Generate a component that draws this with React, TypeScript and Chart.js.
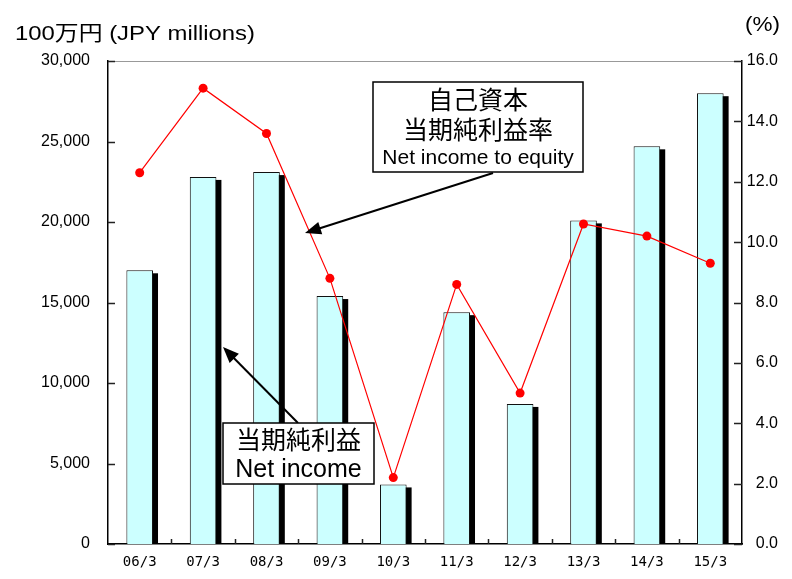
import React, { useEffect, useRef } from 'react';
import { Chart, registerables } from 'chart.js';

Chart.register(...registerables);

const categories = ['06/3', '07/3', '08/3', '09/3', '10/3', '11/3', '12/3', '13/3', '14/3', '15/3'];
const netIncome = [17000, 22800, 23100, 15400, 3700, 14400, 8700, 20100, 24700, 28000];
const roe = [12.3, 15.1, 13.6, 8.8, 2.2, 8.6, 5.0, 10.6, 10.2, 9.3];

const leftTitle = '100万円 (JPY millions)';
const rightTitle = '(%)';
const roeLabel = ['自己資本', '当期純利益率', 'Net income to equity'];
const niLabel = ['当期純利益', 'Net income'];

const SANS = '"Liberation Sans", Arial, "Noto Sans CJK JP", sans-serif';
const CJK = '"Liberation Sans", "Noto Sans CJK JP", sans-serif';

function arrow(ctx: CanvasRenderingContext2D, x1: number, y1: number, x2: number, y2: number) {
  const ang = Math.atan2(y2 - y1, x2 - x1);
  const L = 16, W = 6.5;
  ctx.save();
  ctx.strokeStyle = '#000';
  ctx.fillStyle = '#000';
  ctx.lineWidth = 2;
  ctx.beginPath();
  ctx.moveTo(x1, y1);
  ctx.lineTo(x2 - Math.cos(ang) * (L - 2), y2 - Math.sin(ang) * (L - 2));
  ctx.stroke();
  ctx.beginPath();
  ctx.moveTo(x2, y2);
  ctx.lineTo(x2 - Math.cos(ang) * L - Math.sin(ang) * W, y2 - Math.sin(ang) * L + Math.cos(ang) * W);
  ctx.lineTo(x2 - Math.cos(ang) * L + Math.sin(ang) * W, y2 - Math.sin(ang) * L - Math.cos(ang) * W);
  ctx.closePath();
  ctx.fill();
  ctx.restore();
}

function box(ctx: CanvasRenderingContext2D, x: number, y: number, w: number, h: number, lines: { t: string; y: number; font: string }[]) {
  ctx.save();
  ctx.fillStyle = '#fff';
  ctx.fillRect(x, y, w, h);
  ctx.strokeStyle = '#000';
  ctx.lineWidth = 1.5;
  ctx.strokeRect(x, y, w, h);
  ctx.fillStyle = '#000';
  ctx.textAlign = 'center';
  ctx.textBaseline = 'middle';
  for (const l of lines) {
    ctx.font = l.font;
    ctx.fillText(l.t, x + w / 2, l.y);
  }
  ctx.restore();
}

function stretchedText(ctx: CanvasRenderingContext2D, text: string, x: number, y: number, targetW: number) {
  const w = ctx.measureText(text).width;
  const sx = targetW / w;
  ctx.save();
  ctx.translate(x, y);
  ctx.scale(sx, 1);
  ctx.fillText(text, 0, 0);
  ctx.restore();
}

const decorPlugin = {
  id: 'decor',
  beforeDatasetsDraw(chart: any) {
    const ctx = chart.ctx as CanvasRenderingContext2D;
    const meta = chart.getDatasetMeta(1);
    const area = chart.chartArea;
    ctx.save();
    ctx.fillStyle = '#000';
    for (const el of meta.data) {
      const p = el.getProps(['x', 'y', 'base', 'width'], true);
      const left = p.x - p.width / 2 + 5;
      const top = p.y + 3;
      ctx.fillRect(left, top, p.width, Math.min(p.base, area.bottom) - top);
    }
    ctx.restore();
  },
  afterDraw(chart: any) {
    const ctx = chart.ctx as CanvasRenderingContext2D;
    const a = chart.chartArea;
    const yL = chart.scales.y;
    const yR = chart.scales.y1;
    ctx.save();
    // top border
    ctx.strokeStyle = '#999';
    ctx.lineWidth = 1;
    ctx.beginPath();
    ctx.moveTo(a.left, Math.round(a.top) + 0.5);
    ctx.lineTo(a.right, Math.round(a.top) + 0.5);
    ctx.stroke();
    // inward ticks
    ctx.strokeStyle = '#222';
    ctx.lineWidth = 1.5;
    ctx.beginPath();
    for (const t of yL.ticks) {
      const y = Math.round(yL.getPixelForValue(t.value)) + 0.5;
      ctx.moveTo(a.left, y);
      ctx.lineTo(a.left + 7, y);
    }
    for (const t of yR.ticks) {
      const y = Math.round(yR.getPixelForValue(t.value)) + 0.5;
      ctx.moveTo(a.right - 8, y);
      ctx.lineTo(a.right, y);
    }
    const n = categories.length;
    for (let i = 1; i < n; i++) {
      const x = Math.round(a.left + (i * (a.right - a.left)) / n) + 0.5;
      ctx.moveTo(x, a.bottom - 5);
      ctx.lineTo(x, a.bottom);
    }
    ctx.stroke();
    // titles
    ctx.fillStyle = '#000';
    ctx.textBaseline = 'middle';
    ctx.textAlign = 'left';
    ctx.font = `21px ${CJK}`;
    stretchedText(ctx, leftTitle, 15, 34, 240);
    stretchedText(ctx, rightTitle, 745, 25, 35);
    ctx.restore();

    // annotations
    arrow(ctx, 493, 173, 305, 233);
    box(ctx, 373, 82, 210, 90, [
      { t: roeLabel[0], y: 102, font: `25px ${CJK}` },
      { t: roeLabel[1], y: 132, font: `25px ${CJK}` },
      { t: roeLabel[2], y: 158, font: `21px ${SANS}` },
    ]);
    arrow(ctx, 298, 423, 223, 347);
    box(ctx, 223, 423, 151, 61, [
      { t: niLabel[0], y: 442, font: `25px ${CJK}` },
      { t: niLabel[1], y: 470, font: `25px ${SANS}` },
    ]);
  },
};

export default function App() {
  const ref = useRef<HTMLCanvasElement | null>(null);
  useEffect(() => {
    if (!ref.current) return;
    const chart = new Chart(ref.current, {
      type: 'bar',
      data: {
        labels: categories,
        datasets: [
          {
            type: 'line',
            label: 'ROE',
            data: roe,
            yAxisID: 'y1',
            borderColor: '#ff0000',
            borderWidth: 1.2,
            pointRadius: 4.5,
            pointBackgroundColor: '#ff0000',
            pointBorderWidth: 0,
            tension: 0,
            order: 0,
          } as any,
          {
            type: 'bar',
            label: 'Net income',
            data: netIncome,
            yAxisID: 'y',
            backgroundColor: '#ccffff',
            borderColor: '#111',
            borderWidth: 1,
            categoryPercentage: 1,
            barPercentage: 0.42,
            order: 1,
          },
        ],
      },
      options: {
        responsive: false,
        animation: false,
        layout: { padding: { top: 61, left: 0, right: 14, bottom: 0 } },
        plugins: { legend: { display: false }, tooltip: { enabled: false } },
        scales: {
          x: {
            grid: { display: false, drawTicks: false },
            border: { display: true, color: '#000', width: 1.5 },
            ticks: {
              color: '#000',
              font: { family: '"DejaVu Sans Mono", monospace', size: 14 },
              padding: 10,
              maxRotation: 0,
              autoSkip: false,
            },
            afterFit: (s: any) => {
              s.height = 35;
            },
          },
          y: {
            position: 'left',
            min: 0,
            max: 30000,
            grid: { display: false, drawTicks: false },
            border: { display: true, color: '#000', width: 1.5 },
            ticks: {
              stepSize: 5000,
              color: '#000',
              padding: 18,
              font: { family: SANS, size: 16 },
              callback: (v: any) => Number(v).toLocaleString('en-US'),
            },
            afterFit: (s: any) => {
              s.width = 108;
            },
          },
          y1: {
            position: 'right',
            min: 0,
            max: 16,
            grid: { display: false, drawTicks: false },
            border: { display: true, color: '#000', width: 1.5 },
            ticks: {
              stepSize: 2,
              color: '#000',
              crossAlign: 'far',
              font: { family: SANS, size: 16 },
              callback: (v: any) => Number(v).toFixed(1),
            },
            afterFit: (s: any) => {
              s.width = 36;
            },
          },
        },
      },
      plugins: [decorPlugin],
    });
    return () => chart.destroy();
  }, []);
  return (
    <div style={{ position: 'fixed', left: 0, top: 0, width: 792, height: 579, background: '#fff' }}>
      <canvas ref={ref} width={792} height={579} style={{ display: 'block' }} />
    </div>
  );
}
